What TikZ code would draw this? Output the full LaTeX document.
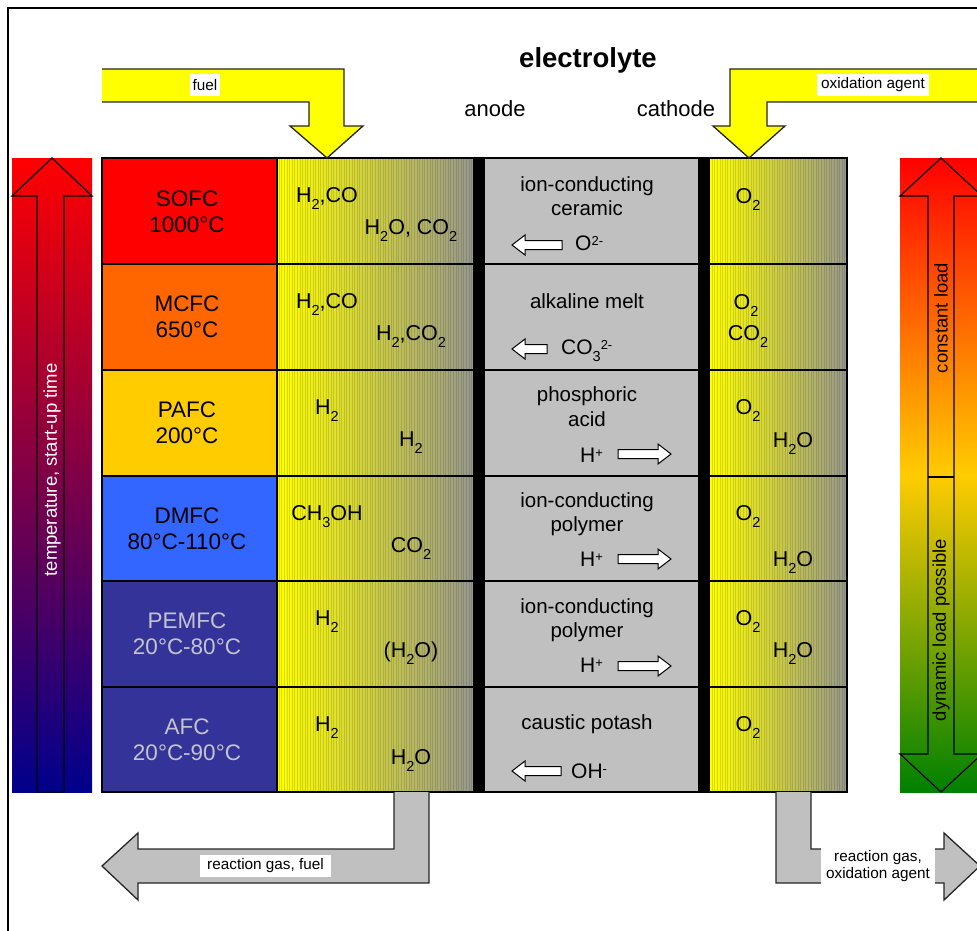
\documentclass[tikz,border=0pt]{standalone}
\usepackage{fontspec}
\setmainfont{Liberation Sans}
\definecolor{cSOFC}{RGB}{255,0,0}
\definecolor{cMCFC}{RGB}{255,102,0}
\definecolor{cPAFC}{RGB}{255,204,0}
\definecolor{cDMFC}{RGB}{51,102,255}
\definecolor{cPEM}{RGB}{51,51,153}
\definecolor{ltxt}{RGB}{196,196,204}
\definecolor{elgray}{RGB}{192,192,192}
\definecolor{endgray}{RGB}{152,152,140}
\definecolor{navyc}{RGB}{0,0,140}
\definecolor{midor}{RGB}{255,204,0}
\definecolor{greenc}{RGB}{0,128,0}
\definecolor{yel}{RGB}{255,255,0}
\newcommand\chsub[1]{\raisebox{-7pt}{\fontsize{14.5}{14.5}\selectfont #1}}
\newcommand\chsup[1]{\raisebox{5pt}{\fontsize{13}{13}\selectfont #1}}
\begin{document}
\begin{tikzpicture}[x=1pt,y=-1pt,line join=miter,
  nm/.style={inner sep=0pt,font=\fontsize{22.5}{26}\selectfont,anchor=base},
  chem/.style={inner sep=0pt,font=\fontsize{21.5}{25}\selectfont,anchor=base},
  el/.style={inner sep=0pt,font=\fontsize{20.5}{24}\selectfont,anchor=base},
  ion/.style={inner sep=0pt,font=\fontsize{21}{25}\selectfont,anchor=base west},
  tag/.style={fill=white,inner sep=0pt,font=\fontsize{15.3}{17}\selectfont},
  bartxt/.style={inner sep=0pt,font=\fontsize{18.5}{22}\selectfont,rotate=90},
  ionarr/.style={draw=black,fill=white,line width=1},
  grid/.style={line width=1.5,draw=black},
  bigarr/.style={line width=1.3,draw=black!85}]
\useasboundingbox (0,0) rectangle (977,931);
\begin{scope}
\clip (0,0) rectangle (977,931);
% frame
\draw[line width=2] (8,940) -- (8,8) -- (990,8);

% left bar
\shade[top color=cSOFC,bottom color=navyc] (12,158) rectangle (92,792);
\draw[line width=1.2] (37,792) -- (37,196) -- (12,196) -- (52,158) -- (92,196) -- (64,196) -- (64,792) -- cycle;
\node[bartxt,text=white] (temp) at (52,470) {temperature, start-up time};

% right bar
\shade[top color=cSOFC,bottom color=greenc,middle color=midor] (900,158) rectangle (990,792);
\draw[line width=1.2] (941,158) -- (982,196) -- (954,196) -- (954,754) -- (982,754) -- (941,792) -- (900,754) -- (928,754) -- (928,196) -- (900,196) -- cycle;
\draw[line width=1.2] (928,477) -- (954,477);
\node[bartxt] (const) at (941,318) {constant load};
\node[bartxt] (dyn) at (941,630) {dynamic load possible};

% name cells
\fill[cSOFC] (102,158) rectangle (277,264);
\fill[cMCFC] (102,264) rectangle (277,370);
\fill[cPAFC] (102,370) rectangle (277,476);
\fill[cDMFC] (102,476) rectangle (277,581);
\fill[cPEM] (102,581) rectangle (277,792);

% anode and cathode gradients
\shade[left color=yel,right color=endgray] (277,158) rectangle (473,792);
\shade[left color=yel,right color=endgray] (710,158) rectangle (847,792);
\foreach \x in {279,281.6,...,472} \draw[black,opacity=0.13,line width=0.6] (\x,158) -- (\x,792);
\foreach \x in {712,714.6,...,846} \draw[black,opacity=0.13,line width=0.6] (\x,158) -- (\x,792);

% electrolyte and membranes
\fill[elgray] (485,158) rectangle (698,792);
\fill[black] (473,158) rectangle (485,792);
\fill[black] (698,158) rectangle (710,792);

% grid
\draw[grid] (102,158) rectangle (847,792);
\foreach \y in {264,370,476,581,687} \draw[grid] (102,\y) -- (847,\y);
\draw[grid] (277,158) -- (277,792);

% headings
\node[inner sep=0pt,anchor=base,font=\fontsize{27.5}{31}\selectfont\bfseries] (title) at (588,68) {electrolyte};
\node[inner sep=0pt,anchor=base,font=\fontsize{22}{26}\selectfont] (anode) at (495,117) {anode};
\node[inner sep=0pt,anchor=base,font=\fontsize{22}{26}\selectfont] (cathode) at (676,117) {cathode};

% fuel arrow
\filldraw[fill=yel,bigarr] (102,69) -- (344,69) -- (344,126) -- (363,126) -- (327,158) -- (290,126) -- (309,126) -- (309,102) -- (102,102);
\node[tag,minimum width=30,minimum height=22] (fuel) at (205,85) {fuel};
% oxidation agent arrow
\filldraw[fill=yel,bigarr] (995,69) -- (730,69) -- (730,126) -- (713,126) -- (749,158) -- (785,126) -- (767,126) -- (767,102) -- (995,102);
\node[tag,minimum width=112,minimum height=22] (ox) at (873,85) {oxidation agent};

% exhaust arrows
\filldraw[fill=elgray,bigarr] (394,792) -- (394,849) -- (138,849) -- (138,833) -- (102,866) -- (138,900) -- (138,883) -- (429,883) -- (429,792);
\node[tag,minimum width=131,minimum height=22] (rgf) at (265.5,866) {reaction gas, fuel};
\filldraw[fill=elgray,bigarr] (776,792) -- (776,883) -- (944,883) -- (944,900) -- (980,866) -- (944,833) -- (944,849) -- (811,849) -- (811,792);
\node[tag,align=center,minimum width=114,minimum height=50] (rgo) at (878,866) {reaction gas,\\oxidation agent};

% row 1 SOFC
\node[nm] (n1a) at (187,206) {SOFC};
\node[nm] (n1b) at (187,232) {1000°C};
\node[chem] (a1a) at (327,202) {H\chsub{2},CO};
\node[chem] (a1b) at (411,234) {H\chsub{2}O, CO\chsub{2}};
\node[el] (e1a) at (587,191) {ion-conducting};
\node[el] (e1b) at (587,215) {ceramic};
\node[ion] (i1) at (575,250) {O\chsup{2-}};
\begin{scope}[shift={(512,245)}]
\draw[ionarr] (0,0) -- (13,-10) -- (13,-4.5) -- (50,-4.5) -- (50,4.5) -- (13,4.5) -- (13,10) -- cycle;
\end{scope}
\node[chem] (c1a) at (748,203) {O\chsub{2}};

% row 2 MCFC
\node[nm] (n2a) at (187,311) {MCFC};
\node[nm] (n2b) at (187,337) {650°C};
\node[chem] (a2a) at (327,308) {H\chsub{2},CO};
\node[chem] (a2b) at (411,340) {H\chsub{2},CO\chsub{2}};
\node[el] (e2a) at (587,308) {alkaline melt};
\node[ion] (i2) at (561,354) {CO\chsub{3}\chsup{2-}};
\begin{scope}[shift={(512,349)}]
\draw[ionarr] (0,0) -- (13,-10) -- (13,-4.5) -- (35,-4.5) -- (35,4.5) -- (13,4.5) -- (13,10) -- cycle;
\end{scope}
\node[chem] (c2a) at (746,309) {O\chsub{2}};
\node[chem] (c2b) at (748,340) {CO\chsub{2}};

% row 3 PAFC
\node[nm] (n3a) at (187,417) {PAFC};
\node[nm] (n3b) at (187,443) {200°C};
\node[chem] (a3a) at (327,414) {H\chsub{2}};
\node[chem] (a3b) at (411,446) {H\chsub{2}};
\node[el] (e3a) at (587,401) {phosphoric};
\node[el] (e3b) at (587,426) {acid};
\node[ion] (i3) at (580,462) {H\chsup{+}};
\begin{scope}[shift={(671,454)}]
\draw[ionarr] (0,0) -- (-13,-10) -- (-13,-4.5) -- (-53,-4.5) -- (-53,4.5) -- (-13,4.5) -- (-13,10) -- cycle;
\end{scope}
\node[chem] (c3a) at (748,414) {O\chsub{2}};
\node[chem] (c3b) at (793,447) {H\chsub{2}O};

% row 4 DMFC
\node[nm] (n4a) at (187,523) {DMFC};
\node[nm] (n4b) at (187,549) {80°C-110°C};
\node[chem] (a4a) at (327,520) {CH\chsub{3}OH};
\node[chem] (a4b) at (411,552) {CO\chsub{2}};
\node[el] (e4a) at (587,507) {ion-conducting};
\node[el] (e4b) at (587,531) {polymer};
\node[ion] (i4) at (580,566) {H\chsup{+}};
\begin{scope}[shift={(671,559)}]
\draw[ionarr] (0,0) -- (-13,-10) -- (-13,-4.5) -- (-53,-4.5) -- (-53,4.5) -- (-13,4.5) -- (-13,10) -- cycle;
\end{scope}
\node[chem] (c4a) at (748,520) {O\chsub{2}};
\node[chem] (c4b) at (793,566) {H\chsub{2}O};

% row 5 PEMFC
\node[nm,text=ltxt] (n5a) at (187,628) {PEMFC};
\node[nm,text=ltxt] (n5b) at (187,654) {20°C-80°C};
\node[chem] (a5a) at (327,625) {H\chsub{2}};
\node[chem] (a5b) at (411,657) {(H\chsub{2}O)};
\node[el] (e5a) at (587,613) {ion-conducting};
\node[el] (e5b) at (587,637) {polymer};
\node[ion] (i5) at (580,672) {H\chsup{+}};
\begin{scope}[shift={(671,666)}]
\draw[ionarr] (0,0) -- (-13,-10) -- (-13,-4.5) -- (-53,-4.5) -- (-53,4.5) -- (-13,4.5) -- (-13,10) -- cycle;
\end{scope}
\node[chem] (c5a) at (748,625) {O\chsub{2}};
\node[chem] (c5b) at (793,657) {H\chsub{2}O};

% row 6 AFC
\node[nm,text=ltxt] (n6a) at (187,734) {AFC};
\node[nm,text=ltxt] (n6b) at (187,760) {20°C-90°C};
\node[chem] (a6a) at (327,731) {H\chsub{2}};
\node[chem] (a6b) at (411,764) {H\chsub{2}O};
\node[el] (e6a) at (587,729) {caustic potash};
\node[ion] (i6) at (571,778) {OH\chsup{-}};
\begin{scope}[shift={(512,771)}]
\draw[ionarr] (0,0) -- (13,-10) -- (13,-4.5) -- (49,-4.5) -- (49,4.5) -- (13,4.5) -- (13,10) -- cycle;
\end{scope}
\node[chem] (c6a) at (748,731) {O\chsub{2}};
\end{scope}
\end{tikzpicture}
\end{document}
